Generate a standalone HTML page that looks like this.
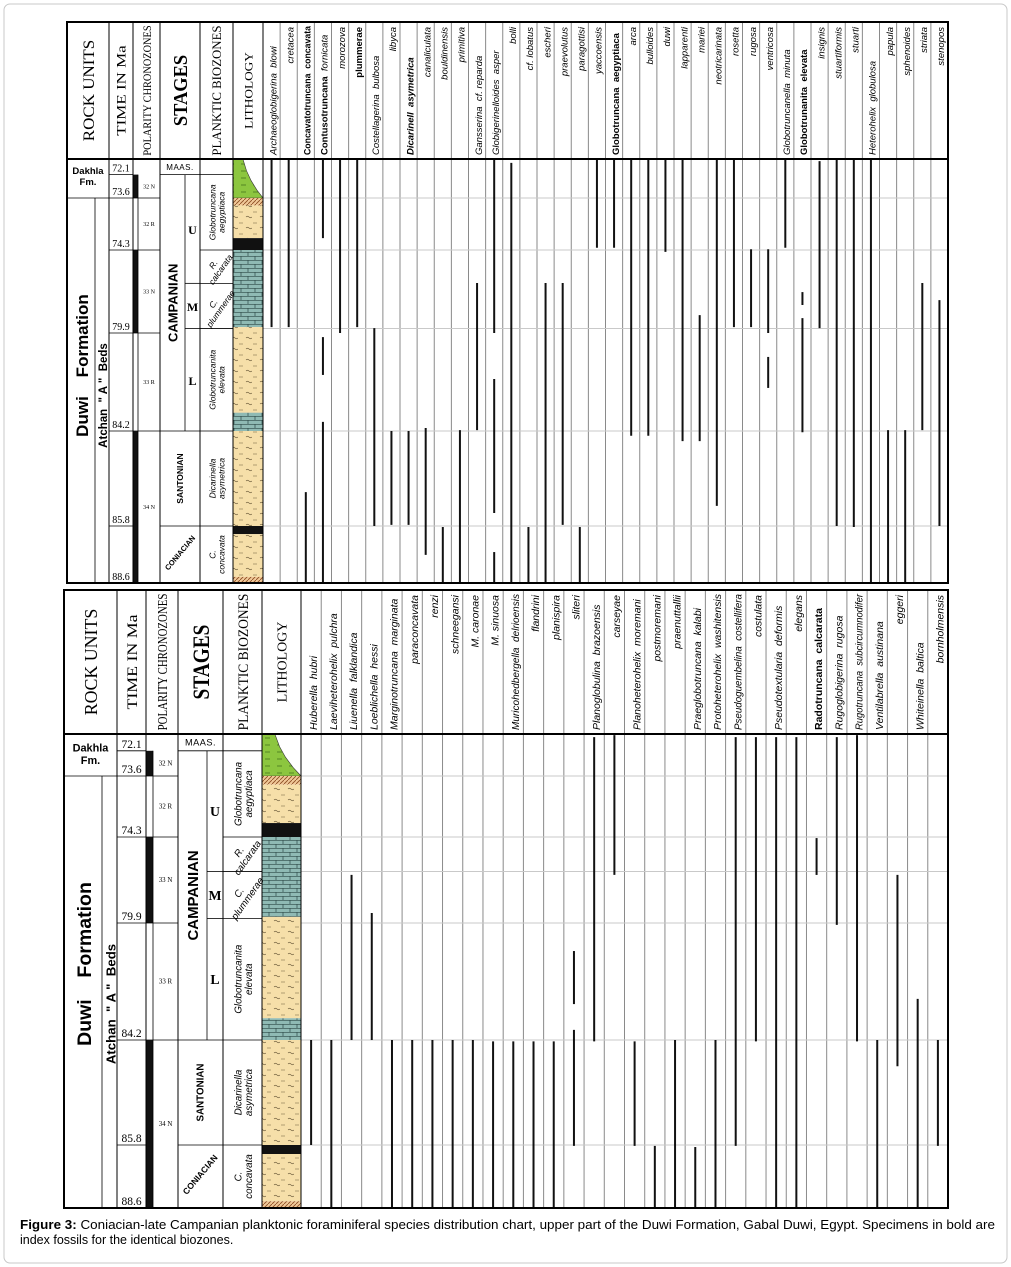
<!DOCTYPE html>
<html><head><meta charset="utf-8"><title>Species distribution chart</title>
<style>
html,body{margin:0;padding:0;background:#fff;}
#wrap{position:relative;width:1011px;height:1267px;overflow:hidden;}
svg{display:block;font-family:"Liberation Sans",sans-serif;}
</style></head>
<body>
<div id="wrap">
<svg id="chart" width="1011" height="1267" viewBox="0 0 1011 1267" xmlns="http://www.w3.org/2000/svg">
<defs>
<pattern id="pTan" width="14" height="11" patternUnits="userSpaceOnUse"><rect width="14" height="11" fill="#f6dfa9"/><path d="M1 3h4M8 8q1.5-1.5 3 0q1.5 1.5 3 0" stroke="#6b5a3a" stroke-width="0.6" fill="none"/></pattern>
<pattern id="pTeal" width="14" height="8" patternUnits="userSpaceOnUse"><rect width="14" height="8" fill="#8fbab4"/><path d="M0 0.3h14M0 4.3h14M3 0v4M10 4v4" stroke="#2d4a48" stroke-width="0.7" fill="none"/></pattern>
<pattern id="pHatch" width="4" height="4" patternUnits="userSpaceOnUse"><rect width="4" height="4" fill="#f0c898"/><path d="M0 4L4 0" stroke="#8a4a20" stroke-width="0.8"/></pattern>
<pattern id="pGreen" width="12" height="7" patternUnits="userSpaceOnUse"><rect width="12" height="7" fill="#8cc63f"/><path d="M1 3h5" stroke="#2f5a10" stroke-width="0.6"/></pattern>
</defs>
<rect x="4" y="4" width="1003" height="1259" rx="6" fill="none" stroke="#c8c8c8"/>
<g id="topPanel"></g>
<g id="botPanel"></g>
<text x="20" y="1229" font-size="12.5" textLength="975" lengthAdjust="spacingAndGlyphs"><tspan font-weight="bold">Figure 3:</tspan> Coniacian-late Campanian planktonic foraminiferal species distribution chart, upper part of the Duwi Formation, Gabal Duwi, Egypt. Specimens in bold are</text>
<text x="20" y="1244" font-size="12.5">index fossils for the identical biozones.</text>
</svg>
</div>
<script>
// ---------- DATA ----------
const ageTicks = [72.1, 73.6, 74.3, 79.9, 84.2, 85.8, 88.6];
const ageLabels = ["72.1", "73.6", "74.3", "79.9", "84.2", "85.8", "88.6"];
const chronNames = ["32 N", "32 R", "33 N", "33 R", "34 N"];
const chronFrom = [72.7, 73.6, 74.3, 79.9, 84.2];
const chronTo = [73.6, 74.3, 79.9, 84.2, 88.6];
const chronNormal = [1, 0, 1, 0, 1];
const zoneNames = [["Globotruncana", "aegyptiaca"], ["R.", "calcarata"], ["C.", "plummerae"], ["Globotruncanita", "elevata"], ["Dicarinella", "asymetrica"], ["C.", "concavata"]];
const zoneFrom = [72.7, 74.3, 76.55, 79.6, 84.2, 85.8];
const zoneTo = [74.3, 76.55, 79.6, 84.2, 85.8, 88.6];
const subStageNames = ["U", "M", "L"];
const subStageFrom = [72.7, 76.55, 79.6];
const subStageTo = [76.55, 79.6, 84.2];
const lithTypes = ["green", "hatch", "tan", "black", "teal", "tan", "teal", "tan", "black", "tan", "hatch"];
const lithFrom = [72.1, 73.6, 73.7, 74.14, 74.3, 79.5, 83.4, 84.2, 85.8, 86.2, 88.3];
const lithTo = [73.6, 73.7, 74.14, 74.3, 79.5, 83.4, 84.2, 85.8, 86.2, 88.3, 88.6];

const topSpecies = ["Archaeoglobigerina blowi","cretacea","Concavatotruncana concavata","Contusotruncana fornicata","morozova","plummerae","Costellagerina bulbosa","libyca","Dicarinell asymetrica","canaliculata","bouldinensis","primitiva","Gansserina cf. reparda","Globigerinelloides asper","bolli","cf. lobatus","escheri","praevolutus","paragottisi","yaccoensis","Globotruncana aegyptiaca","arca","bulloides","duwi","lapparenti","mariei","neotricarinata","rosetta","rugosa","ventricosa","Globotruncanella minuta","Globotrunanita elevata","insignis","stuartiformis","stuarti","Heterohelix globulosa","papula","sphenoides","striata","stenopos"];
const topStyle = ["f","e","B","G","e","E","f","e","I","e","e","e","f","f","e","e","e","e","e","e","B","e","e","e","e","e","e","e","e","e","f","B","e","e","e","f","e","e","e","e"];
const topRangeCol  = [0,1,2,3,3,3,4,5,6,7,8,9,10,11,12,13,13,13,14,15,16,17,18,19,20,21,22,23,24,25,26,27,28,29,29,30,31,31,32,33,34,35,36,37,38,39];
const topRangeFrom = [72.1,72.1,85.23,72.1,80.08,83.8,72.1,72.1,79.57,84.2,84.2,84.07,85.85,84.16,76.53,72.1,81.92,87.08,72.25,85.85,76.53,76.53,85.85,72.1,72.1,72.1,72.1,72.1,72.1,78.69,72.1,72.1,74.29,74.29,80.95,72.1,77.14,78.9,72.18,72.1,72.1,72.1,84.16,84.16,76.53,77.68];
const topRangeTo   = [79.5,79.5,88.6,74.14,81.74,88.6,79.9,79.5,85.8,85.78,85.78,87.22,88.6,88.6,84.16,79.9,85.58,88.6,88.6,88.6,88.6,85.78,88.6,74.27,74.27,84.28,84.28,74.43,84.37,84.37,85.46,79.5,79.5,79.9,82.31,74.27,78.01,84.22,79.57,85.8,85.85,88.6,88.6,88.6,84.16,85.8];
const topGrid = [73.6, 74.3, 79.6, 84.2, 85.8];

const botSpecies = ["Huberella hubri","Laeviheterohelix pulchra","Liuenella falklandica","Loeblichella hessi","Marginotruncana marginata","paraconcavata","renzi","schneegansi","M. caronae","M. sinuosa","Muricohedbergella delrioensis","flandrini","planispira","sliteri","Planoglobulina brazoensis","carseyae","Planoheterohelix moremani","postmoremani","praenuttallii","Praeglobotruncana kalabi","Protoheterohelix washitensis","Pseudoguembelina costellifera","costulata","Pseudotextularia deformis","elegans","Radotruncana calcarata","Rugoglobigerina rugosa","Rugotruncana subcircumnodifer","Ventilabrella austinana","eggeri","Whiteinella baltica","bornholmensis"];
const botStyle = ["f","f","f","f","f","e","e","e","e","e","f","e","e","e","f","e","f","e","e","f","f","f","e","f","e","B","f","f","f","e","f","e"];
const botRangeCol  = [0,1,2,3,4,5,6,7,8,9,10,11,12,13,13,14,15,16,17,18,19,20,21,22,23,24,25,26,27,28,29,30,31];
const botRangeFrom = [84.2,84.2,76.77,79.25,84.2,84.2,84.2,84.2,84.2,84.22,84.22,84.22,84.22,80.93,83.83,72.21,72.14,84.22,85.84,84.2,85.89,84.2,72.21,72.21,72.21,72.21,74.37,72.21,72.14,84.2,76.77,82.69,84.2];
const botRangeTo   = [85.8,88.6,84.2,84.2,88.6,88.6,88.6,88.6,88.6,88.6,88.6,88.6,88.6,82.88,85.84,84.22,76.77,85.84,88.6,88.6,88.6,88.6,85.84,84.22,88.6,88.6,76.77,79.97,84.22,88.6,84.6,88.6,85.84];
const botGrid = [73.6, 74.3, 76.55, 79.9, 84.2, 85.8];

// ---------- LAYOUT ----------
const NS = "http://www.w3.org/2000/svg";
const TOP = {g:"topPanel", x0:67, inner:95, time:109, pol:133, bar:5, polR:160, sub:185, stR:200, bzR:233, lithR:263, right:948, top:22, head:159, bottom:583, tickY:[159,198,250,333,431,526,583], k:1, spFont:9.5, species:topSpecies, style:topStyle, rc:topRangeCol, rf:topRangeFrom, rt:topRangeTo, grid:topGrid, duwiShift:-25, atchShift:5};
const BOT = {g:"botPanel", x0:64, inner:102, time:117, pol:146, bar:7, polR:178, sub:207, stR:223, bzR:262, lithR:301, right:948, top:590, head:734, bottom:1208, tickY:[734,776,837,923,1040,1145,1208], k:1.15, spFont:10.5, species:botSpecies, style:botStyle, rc:botRangeCol, rf:botRangeFrom, rt:botRangeTo, grid:botGrid, duwiShift:-28, atchShift:12};

function yOf(P, ma) {
  const t = ageTicks;
  if (ma <= t[0]) return P.tickY[0];
  for (let i = 1; i < t.length; i++) {
    if (ma <= t[i]) return P.tickY[i-1] + (ma - t[i-1]) / (t[i] - t[i-1]) * (P.tickY[i] - P.tickY[i-1]);
  }
  return P.tickY[t.length-1];
}
function mk(parent, tag, attrs, txt) {
  const el = document.createElementNS(NS, tag);
  for (const k in attrs) el.setAttribute(k, attrs[k]);
  if (txt !== undefined) el.textContent = txt;
  parent.appendChild(el);
  return el;
}
function rtext(parent, x, y, str, size, extra) {
  const a = {x:x, y:y, "font-size":size, transform:"rotate(-90 "+x+" "+y+")"};
  for (const k in extra) a[k] = extra[k];
  return mk(parent, "text", a, str);
}
const SERIF = '"Liberation Serif",serif';

function drawPanel(P) {
  const g = document.getElementById(P.g);
  const k = P.k;
  const nCol = P.species.length;
  const cw = (P.right - P.lithR) / nCol;
  const ph = P.head - P.top;
  const row1 = yOf(P, 72.7);

  for (let i = 0; i <= nCol; i++) {
    const x = P.lithR + i * cw;
    const sep = mk(g, "line", {x1:x, y1:P.top, x2:x, y2:P.bottom, stroke:"#8a8a8a", "stroke-width":1});
    
    
  }
  for (let j = 0; j < P.grid.length; j++) {
    const y = yOf(P, P.grid[j]);
    const gl = mk(g, "line", {x1:P.lithR, y1:y, x2:P.right, y2:y, stroke:"#c9c9c9", "stroke-width":1});
    
    
  }
  for (let i = 0; i < nCol; i++) {
    const x = P.lithR + i * cw + cw * 0.78;
    const code = P.style[i];
    const name = P.species[i];
    const epi = (code === "e" || code === "E");
    const y = epi ? P.top + 5 : P.head - 4;
    const t = rtext(g, x, y, "", P.spFont, {"text-anchor": epi ? "end" : "start"});
    
    
    const sp = name.indexOf(" ");
    if (epi || sp < 0 || name.startsWith("M. ")) {
      mk(t, "tspan", {"font-style": code === "E" ? "normal" : "italic", "font-weight": code === "E" ? "bold" : "normal"}, name);
    } else {
      const genus = name.slice(0, sp), rest = name.slice(sp + 1);
      const bold = (code === "B" || code === "G" || code === "I");
      const ital = (code === "f" || code === "I");
      mk(t, "tspan", {"font-weight": bold ? "bold" : "normal", "font-style": ital ? "italic" : "normal"}, genus + "\u00a0\u00a0");
      mk(t, "tspan", {"font-weight": (code === "G") ? "normal" : (bold ? "bold" : "normal"), "font-style": (ital || code === "G") ? "italic" : "normal"}, rest);
    }
    const maxLen = ph - 8;
    let len = 0;
    try { len = t.getComputedTextLength(); } catch (e) { len = 0; }
    if (len > maxLen) {
      t.setAttribute("textLength", maxLen);
      t.setAttribute("lengthAdjust", "spacingAndGlyphs");
    }
  }
  for (let r = 0; r < P.rc.length; r++) {
    const x = P.lithR + (P.rc[r] + 0.5) * cw;
    const bar = mk(g, "line", {x1:x, y1:yOf(P, P.rf[r]), x2:x, y2:yOf(P, P.rt[r]), stroke:"#111", "stroke-width":2});
    
    
  }

  const lw = P.lithR - P.bzR;
  for (let i = 0; i < lithTypes.length; i++) {
    const y1 = yOf(P, lithFrom[i]), y2 = yOf(P, lithTo[i]);
    let el;
    if (lithTypes[i] === "green") {
      const h = y2 - y1, x = P.bzR;
      const pts = [[0,0],[0.33,0],[0.45,0.3],[0.6,0.55],[0.8,0.8],[1,1],[0,1]].map(p => (x + p[0]*lw) + "," + (y1 + p[1]*h)).join(" ");
      el = mk(g, "polygon", {points:pts, fill:"url(#pGreen)", stroke:"#333", "stroke-width":0.6});
    } else {
      const fill = {tan:"url(#pTan)", teal:"url(#pTeal)", hatch:"url(#pHatch)", black:"#111"}[lithTypes[i]];
      el = mk(g, "rect", {x:P.bzR, y:y1, width:lw, height:y2 - y1, fill:fill});
    }
    
    
  }

  for (let i = 0; i < chronNames.length; i++) {
    const y1 = yOf(P, chronFrom[i]), y2 = yOf(P, chronTo[i]);
    if (chronNormal[i]) {
      const b = mk(g, "rect", {x:P.pol, y:y1, width:P.bar, height:y2 - y1, fill:"#111"});
      
      
    }
    const ln = mk(g, "line", {x1:P.pol, y1:y2, x2:P.polR, y2:y2, stroke:"#000", "stroke-width":0.8});
    
    
    const lb = mk(g, "text", {x:(P.pol + P.bar + P.polR) / 2, y:(y1 + y2) / 2 + 2, "font-size":6 * k, "text-anchor":"middle", "font-family":SERIF}, chronNames[i]);
    
    
  }
  const pl = mk(g, "line", {x1:P.pol + P.bar, y1:row1, x2:P.pol + P.bar, y2:P.bottom, stroke:"#000", "stroke-width":0.8});
  
  

  for (let i = 0; i < ageTicks.length; i++) {
    const yl = i === 0 ? row1 : P.tickY[i];
    const tl = mk(g, "text", {x:(P.time + P.pol) / 2, y:yl - 3, "font-size":10 * k, "text-anchor":"middle", "font-family":SERIF}, ageLabels[i]);
    
    
    const tk = mk(g, "line", {x1:P.time, y1:yl, x2:P.pol, y2:yl, stroke:"#000", "stroke-width":0.8});
    
    
  }

  const ys = (m) => yOf(P, m);
  const stl = [[P.stR, row1, P.polR], [P.stR, ys(84.2), P.polR], [P.stR, ys(85.8), P.polR]];
  for (const s of stl) {
    const l = mk(g, "line", {x1:s[2], y1:s[1], x2:s[0], y2:s[1], stroke:"#000", "stroke-width":0.8});
    
    
  }
  const subl = mk(g, "line", {x1:P.sub, y1:row1, x2:P.sub, y2:ys(84.2), stroke:"#000", "stroke-width":0.8});
  
  
  for (let i = 0; i < subStageNames.length; i++) {
    const y1 = ys(subStageFrom[i]), y2 = ys(subStageTo[i]);
    if (i > 0) {
      const l = mk(g, "line", {x1:P.sub, y1:y1, x2:P.stR, y2:y1, stroke:"#000", "stroke-width":0.8});
      
      
    }
    const st = mk(g, "text", {x:(P.sub + P.stR) / 2, y:(y1 + y2) / 2 + 5, "font-size":12 * k, "font-weight":"bold", "text-anchor":"middle", "font-family":SERIF}, subStageNames[i]);
    
    
  }
  const maas = mk(g, "text", {x:(P.polR + P.stR) / 2, y:(P.head + row1) / 2 + 3, "font-size":8 * k, "text-anchor":"middle", "letter-spacing":0.5}, "MAAS.");
  
  
  const camp = rtext(g, (P.polR + P.sub) / 2 + 5 * k, (row1 + ys(84.2)) / 2, "CAMPANIAN", 13 * k, {"font-weight":"bold", "text-anchor":"middle"});
  
  
  const sant = rtext(g, (P.polR + P.stR) / 2 + 3, (ys(84.2) + ys(85.8)) / 2, "SANTONIAN", 8.5 * k, {"font-weight":"bold", "text-anchor":"middle"});
  
  
  const cx = (P.polR + P.stR) / 2 + 2, cy = (ys(85.8) + P.bottom) / 2;
  const coni = mk(g, "text", {x:cx, y:cy, "font-size":7.5 * k, "font-weight":"bold", "text-anchor":"middle", transform:"rotate(-50 " + cx + " " + cy + ")"}, "CONIACIAN");
  
  

  for (let i = 0; i < zoneNames.length; i++) {
    const y1 = ys(zoneFrom[i]), y2 = ys(zoneTo[i]);
    const l = mk(g, "line", {x1:P.stR, y1:y1, x2:P.bzR, y2:y1, stroke:"#000", "stroke-width":0.8});
    
    
    const cxz = (P.stR + P.bzR) / 2, cyz = (y1 + y2) / 2;
    const ang = (i === 1 || i === 2) ? -55 : -90;
    const t = mk(g, "text", {x:cxz, y:cyz, "font-size":8.5 * k, "font-style":"italic", "text-anchor":"middle", transform:"rotate(" + ang + " " + cxz + " " + cyz + ")"});
    
    
    mk(t, "tspan", {x:cxz, dy:-1}, zoneNames[i][0]);
    mk(t, "tspan", {x:cxz, dy:9 * k}, zoneNames[i][1]);
  }

  const rl = mk(g, "line", {x1:P.x0, y1:ys(73.6), x2:P.time, y2:ys(73.6), stroke:"#000", "stroke-width":0.8});
  
  
  const il = mk(g, "line", {x1:P.inner, y1:ys(73.6), x2:P.inner, y2:P.bottom, stroke:"#000", "stroke-width":0.8});
  
  
  const dk = mk(g, "text", {x:(P.x0 + P.time) / 2, y:P.head + 15 * k, "font-size":9.5 * k, "font-weight":"bold", "text-anchor":"middle"});
  
  
  mk(dk, "tspan", {x:(P.x0 + P.time) / 2}, "Dakhla");
  mk(dk, "tspan", {x:(P.x0 + P.time) / 2, dy:11 * k}, "Fm.");
  const mid = (ys(73.6) + P.bottom) / 2;
  const duwi = rtext(g, (P.x0 + P.inner) / 2 + 7 * k, mid + P.duwiShift, "Duwi\u00a0\u00a0\u00a0 Formation", 17 * k, {"font-weight":"bold", "text-anchor":"middle"});
  
  
  const atch = rtext(g, (P.inner + P.time) / 2 + 5 * k, mid + P.atchShift, "Atchan \u00a0\" A \"\u00a0 Beds", 11.5 * k, {"font-weight":"bold", "text-anchor":"middle"});
  
  

  const cols = [P.time, P.pol, P.polR, P.stR, P.bzR, P.lithR];
  for (const x of cols) {
    const l = mk(g, "line", {x1:x, y1:P.top, x2:x, y2:P.bottom, stroke:"#000", "stroke-width":1});
    
    
  }
  const hl = mk(g, "line", {x1:P.x0, y1:P.head, x2:P.right, y2:P.head, stroke:"#000", "stroke-width":2});
  
  
  const fr = mk(g, "rect", {x:P.x0, y:P.top, width:P.right - P.x0, height:P.bottom - P.top, fill:"none", stroke:"#000", "stroke-width":2});
  
  

  const hm = (P.top + P.head) / 2;
  const titles = [
    ["ROCK UNITS", (P.x0 + P.time) / 2, 16 * k, 0.74, "rock-units-header"],
    ["TIME IN Ma", (P.time + P.pol) / 2, 13 * k, 0.66, "time-header"],
    ["POLARITY CHRONOZONES", (P.pol + P.polR) / 2, 12 * k, 0.95, "polarity-header"],
    ["STAGES", (P.polR + P.stR) / 2, 20 * k, 0.52, "stages-header"],
    ["PLANKTIC BIOZONES", (P.stR + P.bzR) / 2, 13 * k, 0.95, "biozones-header"],
    ["LITHOLOGY", (P.bzR + P.lithR) / 2, 12 * k, 0.56, "lithology-header"]
  ];
  for (const t of titles) {
    const el = rtext(g, t[1] + t[2] * 0.36, hm, t[0], t[2], {"text-anchor":"middle", "font-family":SERIF, "font-weight": t[0] === "STAGES" ? "bold" : "normal", textLength: ph * t[3], lengthAdjust:"spacingAndGlyphs"});
    
    
  }
}
drawPanel(TOP);
drawPanel(BOT);
</script>
</body></html>
